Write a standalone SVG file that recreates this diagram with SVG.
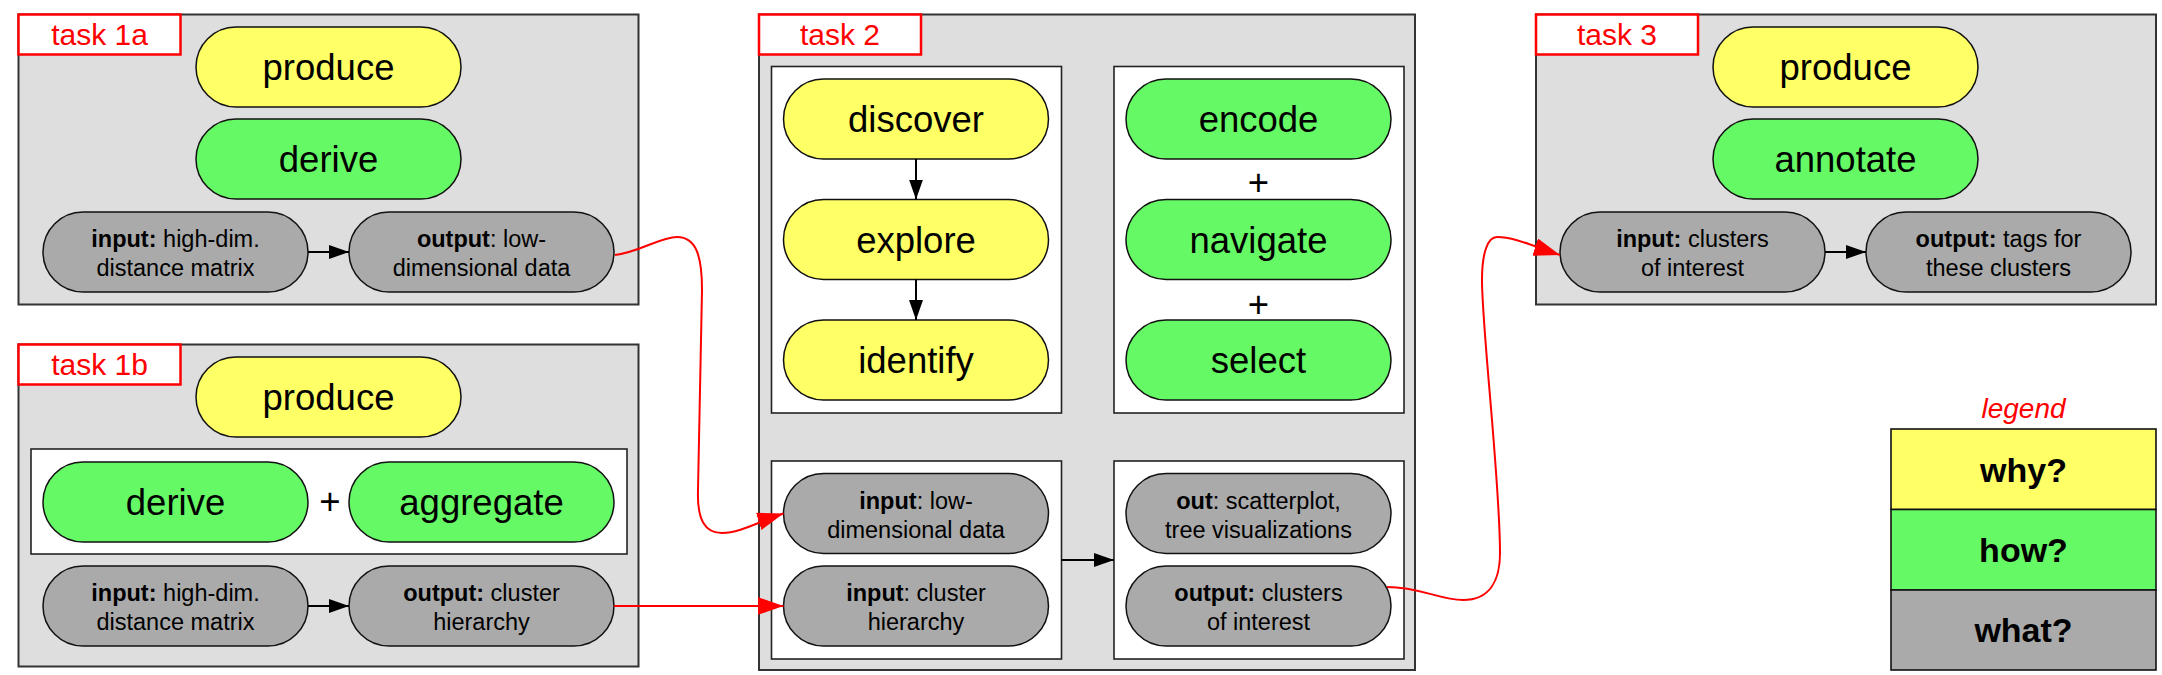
<svg xmlns="http://www.w3.org/2000/svg" width="2162" height="675" viewBox="0 0 2162 675">
<style>
text{font-family:"Liberation Sans",Arial,Helvetica,sans-serif;fill:#000}
.task{fill:#dedede;stroke:#333;stroke-width:2}
.lbl{fill:#fff;stroke:#f00;stroke-width:2.5}
.lt{font-size:30px;fill:#f00;text-anchor:middle}
.wb{fill:#fff;stroke:#222;stroke-width:1.6}
.y{fill:#ffff66;stroke:#111;stroke-width:1.5}
.g{fill:#66f966;stroke:#111;stroke-width:1.5}
.k{fill:#aaaaaa;stroke:#111;stroke-width:1.5}
.big{font-size:36.5px;text-anchor:middle}
.sm{font-size:23.5px;text-anchor:middle}
.b{font-weight:bold}
.blk{stroke:#000;stroke-width:2;fill:none}
.red{stroke:#f00;stroke-width:2;fill:none}
.leg{font-size:34px;font-weight:bold;text-anchor:middle}
</style>
<defs>
<marker id="ab" markerUnits="userSpaceOnUse" markerWidth="21" markerHeight="15" refX="20" refY="7" orient="auto"><path d="M0,0 L20,7 L0,14 z" fill="#000"/></marker>
<marker id="ar" markerUnits="userSpaceOnUse" markerWidth="27" markerHeight="19" refX="26" refY="9" orient="auto"><path d="M0,0 L26,9 L0,18 z" fill="#f00"/></marker>
</defs>

<g id="task1a">
<rect class="task" x="18.5" y="14.5" width="620" height="290"/>
<rect class="lbl" x="18.5" y="14.5" width="162" height="40"/>
<text class="lt" x="99.5" y="45">task 1a</text>
<rect class="y" x="196" y="27" width="265" height="80" rx="40"/>
<text class="big" x="328.5" y="80">produce</text>
<rect class="g" x="196" y="119" width="265" height="80" rx="40"/>
<text class="big" x="328.5" y="172">derive</text>
<rect class="k" x="43" y="212" width="265" height="80" rx="40"/>
<text class="sm" x="175.5" y="247"><tspan class="b">input:</tspan> high-dim.</text>
<text class="sm" x="175.5" y="276">distance matrix</text>
<rect class="k" x="349" y="212" width="265" height="80" rx="40"/>
<text class="sm" x="481.5" y="247"><tspan class="b">output</tspan>: low-</text>
<text class="sm" x="481.5" y="276">dimensional data</text>
</g>

<g id="task1b">
<rect class="task" x="18.5" y="344.5" width="620" height="322"/>
<rect class="lbl" x="18.5" y="344.5" width="162" height="40"/>
<text class="lt" x="99.5" y="375">task 1b</text>
<rect class="y" x="196" y="357" width="265" height="80" rx="40"/>
<text class="big" x="328.5" y="410">produce</text>
<rect class="wb" x="31" y="449" width="596" height="105"/>
<rect class="g" x="43" y="462" width="265" height="80" rx="40"/>
<text class="big" x="175.5" y="515">derive</text>
<text class="big" x="330" y="514">+</text>
<rect class="g" x="349" y="462" width="265" height="80" rx="40"/>
<text class="big" x="481.5" y="515">aggregate</text>
<rect class="k" x="43" y="566" width="265" height="80" rx="40"/>
<text class="sm" x="175.5" y="601"><tspan class="b">input:</tspan> high-dim.</text>
<text class="sm" x="175.5" y="630">distance matrix</text>
<rect class="k" x="349" y="566" width="265" height="80" rx="40"/>
<text class="sm" x="481.5" y="601"><tspan class="b">output:</tspan> cluster</text>
<text class="sm" x="481.5" y="630">hierarchy</text>
</g>

<g id="task2">
<rect class="task" x="759" y="14.5" width="656" height="655.5"/>
<rect class="lbl" x="759" y="14.5" width="162" height="40"/>
<text class="lt" x="840" y="45">task 2</text>
<rect class="wb" x="771.5" y="66.5" width="290" height="346.5"/>
<rect class="y" x="783.5" y="79" width="265" height="80" rx="40"/>
<text class="big" x="916" y="132">discover</text>
<rect class="y" x="783.5" y="199.5" width="265" height="80" rx="40"/>
<text class="big" x="916" y="252.5">explore</text>
<rect class="y" x="783.5" y="320" width="265" height="80" rx="40"/>
<text class="big" x="916" y="373">identify</text>
<rect class="wb" x="1114" y="66.5" width="290" height="346.5"/>
<rect class="g" x="1126" y="79" width="265" height="80" rx="40"/>
<text class="big" x="1258.5" y="132">encode</text>
<text class="big" x="1258.5" y="195">+</text>
<rect class="g" x="1126" y="199.5" width="265" height="80" rx="40"/>
<text class="big" x="1258.5" y="252.5">navigate</text>
<text class="big" x="1258.5" y="317">+</text>
<rect class="g" x="1126" y="320" width="265" height="80" rx="40"/>
<text class="big" x="1258.5" y="373">select</text>
<rect class="wb" x="771.5" y="461" width="290" height="198"/>
<rect class="k" x="783.5" y="473.5" width="265" height="80" rx="40"/>
<text class="sm" x="916" y="508.5"><tspan class="b">input</tspan>: low-</text>
<text class="sm" x="916" y="537.5">dimensional data</text>
<rect class="k" x="783.5" y="566" width="265" height="80" rx="40"/>
<text class="sm" x="916" y="601"><tspan class="b">input</tspan>: cluster</text>
<text class="sm" x="916" y="630">hierarchy</text>
<rect class="wb" x="1114" y="461" width="290" height="198"/>
<rect class="k" x="1126" y="473.5" width="265" height="80" rx="40"/>
<text class="sm" x="1258.5" y="508.5"><tspan class="b">out</tspan>: scatterplot,</text>
<text class="sm" x="1258.5" y="537.5">tree visualizations</text>
<rect class="k" x="1126" y="566" width="265" height="80" rx="40"/>
<text class="sm" x="1258.5" y="601"><tspan class="b">output:</tspan> clusters</text>
<text class="sm" x="1258.5" y="630">of interest</text>
</g>

<g id="task3">
<rect class="task" x="1536" y="14.5" width="620" height="290"/>
<rect class="lbl" x="1536" y="14.5" width="162" height="40"/>
<text class="lt" x="1617" y="45">task 3</text>
<rect class="y" x="1713" y="27" width="265" height="80" rx="40"/>
<text class="big" x="1845.5" y="80">produce</text>
<rect class="g" x="1713" y="119" width="265" height="80" rx="40"/>
<text class="big" x="1845.5" y="172">annotate</text>
<rect class="k" x="1560" y="212" width="265" height="80" rx="40"/>
<text class="sm" x="1692.5" y="247"><tspan class="b">input:</tspan> clusters</text>
<text class="sm" x="1692.5" y="276">of interest</text>
<rect class="k" x="1866" y="212" width="265" height="80" rx="40"/>
<text class="sm" x="1998.5" y="247"><tspan class="b">output:</tspan> tags for</text>
<text class="sm" x="1998.5" y="276">these clusters</text>
</g>

<g id="legend">
<text x="2023.5" y="418" style="font-size:28px;font-style:italic;fill:#f00;text-anchor:middle">legend</text>
<rect x="1891" y="429" width="265" height="80.5" fill="#ffff66" stroke="#111" stroke-width="1.6"/>
<rect x="1891" y="509.5" width="265" height="80.5" fill="#66f966" stroke="#111" stroke-width="1.6"/>
<rect x="1891" y="590" width="265" height="80" fill="#aaaaaa" stroke="#111" stroke-width="1.6"/>
<text class="leg" x="2023.5" y="481.5">why?</text>
<text class="leg" x="2023.5" y="562">how?</text>
<text class="leg" x="2023.5" y="642">what?</text>
</g>

<g id="connectors">
<path class="blk" d="M308,252 L349,252" marker-end="url(#ab)"/>
<path class="blk" d="M308,606 L349,606" marker-end="url(#ab)"/>
<path class="blk" d="M916,159 L916,199.5" marker-end="url(#ab)"/>
<path class="blk" d="M916,279.5 L916,320" marker-end="url(#ab)"/>
<path class="blk" d="M1061.5,560 L1114,560" marker-end="url(#ab)"/>
<path class="blk" d="M1825,252 L1866,252" marker-end="url(#ab)"/>
<path class="red" d="M615,255 C640,252 660,237 677,237 C697,237 702,258 702,290 L698,490 C697,520 705,533 722,533 C740,533 760,521 783.5,513.5" marker-end="url(#ar)"/>
<path class="red" d="M614,606 L783.5,606" marker-end="url(#ar)"/>
<path class="red" d="M1387,587 C1420,587 1440,600 1463,600 C1490,600 1500,580 1500,553 C1500,480 1482,330 1482,280 C1482,252 1488,237 1497,237 C1515,237 1535,247 1560,255" marker-end="url(#ar)"/>
</g>
</svg>
